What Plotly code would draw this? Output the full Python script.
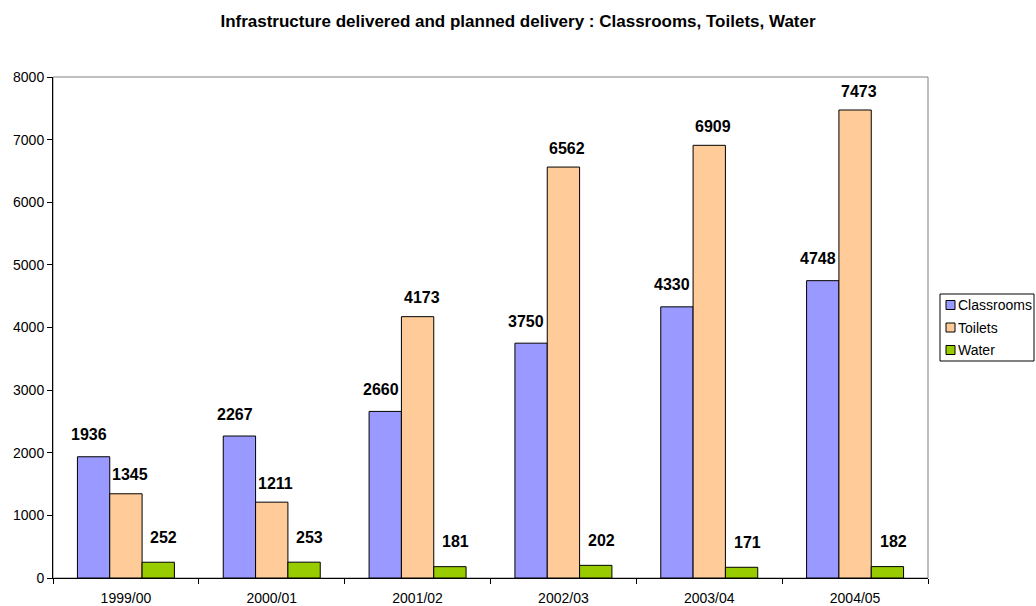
import plotly.graph_objects as go

years = ["1999/00", "2000/01", "2001/02", "2002/03", "2003/04", "2004/05"]
classrooms = [1936, 2267, 2660, 3750, 4330, 4748]
toilets = [1345, 1211, 4173, 6562, 6909, 7473]
water = [252, 253, 181, 202, 171, 182]

FONT = "Arial, Liberation Sans, sans-serif"
W, H = 1036, 606
L, R, T, B = 53, 108, 77, 28

# name, values, colour, label x-offset (px), label y-offset (px)
series = [
    ("Classrooms", classrooms, "#9999FF", -37, 22),
    ("Toilets", toilets, "#FFCC99", 4, 19),
    ("Water", water, "#99CC00", 38, 25),
]


def px_x(x):
    return (x - L) / (W - L - R)


def px_y(y):
    return (H - B - y) / (H - T - B)


fig = go.Figure()
annotations = []
shapes = []
for name, values, color, xshift, yshift in series:
    fig.add_trace(go.Bar(
        name=name, x=years, y=values,
        marker=dict(color=color, line=dict(color="black", width=1)),
    ))
    for yr, v in zip(years, values):
        annotations.append(dict(
            x=yr, y=v, text=str(v), showarrow=False,
            xshift=xshift, yshift=yshift, yanchor="middle",
            font=dict(family=FONT, size=16, color="black", weight="bold"),
        ))

# grey frame around plot area
shapes.append(dict(type="rect", xref="paper", yref="paper", x0=0, y0=0, x1=1, y1=1,
                   line=dict(color="#808080", width=1), layer="below"))

# Excel-style legend box drawn by hand
shapes.append(dict(type="rect", xref="paper", yref="paper",
                   x0=px_x(940), x1=px_x(1034), y0=px_y(361), y1=px_y(294),
                   line=dict(color="black", width=1), fillcolor="white"))
for i, (name, _, color, _, _) in enumerate(series):
    cy = 305 + 22.5 * i
    shapes.append(dict(type="rect", xref="paper", yref="paper",
                       x0=px_x(946), x1=px_x(955), y0=px_y(cy + 4.5), y1=px_y(cy - 4.5),
                       line=dict(color="black", width=1), fillcolor=color))
    annotations.append(dict(
        xref="paper", yref="paper", x=px_x(956), y=px_y(cy), text=name,
        showarrow=False, xanchor="left", yanchor="middle",
        font=dict(family=FONT, size=14, color="black"),
    ))

fig.update_layout(
    width=W, height=H,
    margin=dict(l=L, r=R, t=T, b=B),
    paper_bgcolor="white", plot_bgcolor="white",
    barmode="group", bargap=0.335, bargroupgap=0,
    font=dict(family=FONT, size=14, color="black"),
    title=dict(
        text="<b>Infrastructure delivered and planned delivery : Classrooms, Toilets, Water</b>",
        x=0.5, xanchor="center", y=0.965, yanchor="middle",
        font=dict(family=FONT, size=17),
    ),
    showlegend=False,
    annotations=annotations,
    shapes=shapes,
)
fig.update_yaxes(
    range=[0, 8000], dtick=1000, showgrid=False, zeroline=False,
    showline=True, linecolor="black", linewidth=1,
    ticks="outside", ticklen=5, tickcolor="black", automargin=False,
)
fig.update_xaxes(
    showgrid=False, showline=True, linecolor="black", linewidth=1,
    ticks="outside", ticklen=5, tickcolor="black", tickson="boundaries",
    ticklabelstandoff=7, automargin=False,
)

fig.write_html("out.html", config={"displayModeBar": False},
               post_script="document.body.style.margin='0';")
